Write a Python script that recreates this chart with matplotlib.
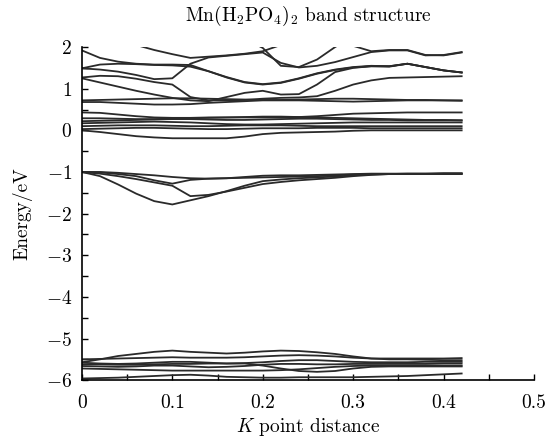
import matplotlib
matplotlib.use("Agg")
import matplotlib.pyplot as plt
from matplotlib.ticker import MultipleLocator

plt.rcParams["font.family"] = "serif"
plt.rcParams["font.serif"] = ["cmr10"]
plt.rcParams["mathtext.fontset"] = "cm"
plt.rcParams["axes.formatter.use_mathtext"] = True

# k-point grid (shared by all bands)
k = [0.00, 0.02, 0.04, 0.06, 0.08, 0.10, 0.12, 0.14, 0.16, 0.18, 0.20,
     0.22, 0.24, 0.26, 0.28, 0.30, 0.32, 0.34, 0.36, 0.38, 0.40, 0.42]

# upper bands (1 .. 2 eV), values above 2 get clipped by the axis
upper_bands = [
    [2.00, 2.15, 2.30, 2.45, 2.60, 2.70, 2.80, 2.90, 3.00, 3.00, 3.00, 3.00, 3.00, 3.00, 3.00, 3.00, 3.00, 3.00, 3.00, 3.00, 3.00, 3.00],
    [2.60, 2.45, 2.30, 2.05, 1.93, 1.83, 1.74, 1.77, 1.80, 1.84, 1.90, 2.05, 2.20, 2.40, 2.60, 2.80, 3.00, 3.00, 3.00, 3.00, 3.00, 3.00],
    [1.92, 1.74, 1.65, 1.60, 1.58, 1.58, 1.57, 1.42, 1.27, 1.15, 1.10, 1.14, 1.24, 1.36, 1.45, 1.51, 1.54, 1.53, 1.60, 1.52, 1.44, 1.39],
    [1.49, 1.46, 1.41, 1.33, 1.23, 1.25, 1.60, 1.75, 1.79, 1.83, 1.87, 1.62, 1.51, 1.55, 1.64, 1.76, 1.88, 1.92, 1.92, 1.80, 1.81, 1.88],
    [1.49, 1.58, 1.60, 1.59, 1.57, 1.56, 1.53, 1.42, 1.28, 1.16, 1.11, 1.15, 1.25, 1.37, 1.46, 1.52, 1.55, 1.54, 1.60, 1.52, 1.44, 1.39],
    [3.00, 3.00, 3.00, 3.00, 3.00, 3.00, 3.00, 2.60, 2.40, 2.20, 1.98, 1.55, 1.52, 1.70, 2.00, 2.25, 2.50, 3.00, 3.00, 3.00, 3.00, 3.00],
    [3.00, 3.00, 3.00, 3.00, 3.00, 3.00, 3.00, 3.00, 3.00, 3.00, 3.00, 3.00, 2.60, 2.45, 2.30, 2.03, 1.90, 1.93, 1.93, 1.81, 1.80, 1.87],
    [1.27, 1.31, 1.30, 1.24, 1.16, 1.10, 0.80, 0.72, 0.72, 0.73, 0.76, 0.78, 0.79, 0.82, 0.95, 1.10, 1.20, 1.26, 1.27, 1.28, 1.29, 1.30],
    [1.25, 1.15, 1.05, 0.95, 0.86, 0.78, 0.72, 0.70, 0.80, 0.90, 0.95, 0.86, 0.87, 1.10, 1.40, 1.50, 1.54, 1.54, 1.60, 1.52, 1.44, 1.39],
]

# bands around 0.7 eV and the Fermi region
mid_bands = [
    [0.68, 0.68, 0.66, 0.64, 0.62, 0.62, 0.63, 0.66, 0.68, 0.70, 0.72, 0.72, 0.72, 0.71, 0.70, 0.69, 0.70, 0.71, 0.72, 0.72, 0.72, 0.72],
    [0.72, 0.73, 0.74, 0.75, 0.76, 0.77, 0.77, 0.76, 0.75, 0.74, 0.73, 0.73, 0.74, 0.75, 0.76, 0.76, 0.75, 0.74, 0.73, 0.73, 0.72, 0.71],
    [0.43, 0.42, 0.38, 0.34, 0.31, 0.30, 0.30, 0.31, 0.31, 0.31, 0.31, 0.31, 0.32, 0.34, 0.37, 0.40, 0.41, 0.42, 0.43, 0.43, 0.43, 0.43],
    [0.29, 0.29, 0.28, 0.27, 0.27, 0.28, 0.29, 0.30, 0.31, 0.32, 0.33, 0.33, 0.32, 0.31, 0.30, 0.29, 0.28, 0.27, 0.26, 0.25, 0.25, 0.24],
    [0.22, 0.23, 0.24, 0.25, 0.26, 0.27, 0.27, 0.26, 0.25, 0.25, 0.26, 0.27, 0.28, 0.28, 0.27, 0.26, 0.25, 0.25, 0.24, 0.24, 0.24, 0.24],
    [0.17, 0.18, 0.19, 0.20, 0.21, 0.20, 0.19, 0.17, 0.15, 0.14, 0.14, 0.15, 0.16, 0.17, 0.18, 0.19, 0.19, 0.19, 0.19, 0.19, 0.19, 0.19],
    [0.10, 0.11, 0.12, 0.12, 0.12, 0.11, 0.10, 0.10, 0.11, 0.12, 0.12, 0.12, 0.11, 0.10, 0.10, 0.10, 0.10, 0.10, 0.10, 0.10, 0.10, 0.10],
    [0.03, 0.04, 0.05, 0.06, 0.06, 0.05, 0.04, 0.03, 0.03, 0.04, 0.05, 0.05, 0.05, 0.06, 0.06, 0.06, 0.05, 0.05, 0.05, 0.05, 0.05, 0.05],
    [0.00, -0.04, -0.09, -0.14, -0.17, -0.19, -0.19, -0.19, -0.19, -0.15, -0.09, -0.06, -0.05, -0.04, -0.03, -0.01, 0.00, 0.00, 0.00, 0.00, 0.00, 0.00],
]

# bands near -1 eV
minus1_bands = [
    [-1.00, -1.00, -1.02, -1.05, -1.08, -1.12, -1.15, -1.16, -1.15, -1.12, -1.09, -1.08, -1.08, -1.07, -1.06, -1.05, -1.04, -1.04, -1.04, -1.04, -1.03, -1.03],
    [-1.00, -1.04, -1.10, -1.17, -1.25, -1.33, -1.58, -1.55, -1.47, -1.38, -1.29, -1.24, -1.20, -1.17, -1.14, -1.10, -1.07, -1.05, -1.05, -1.05, -1.05, -1.05],
    [-1.00, -1.10, -1.30, -1.52, -1.70, -1.78, -1.68, -1.58, -1.46, -1.33, -1.22, -1.18, -1.15, -1.13, -1.11, -1.08, -1.06, -1.05, -1.05, -1.05, -1.04, -1.04],
    [-1.00, -1.01, -1.05, -1.10, -1.20, -1.28, -1.19, -1.16, -1.15, -1.14, -1.13, -1.12, -1.11, -1.10, -1.08, -1.06, -1.05, -1.05, -1.04, -1.04, -1.04, -1.04],
]

# deep valence bands near -5.5 eV
deep_bands = [
    [-5.57, -5.50, -5.42, -5.37, -5.32, -5.29, -5.32, -5.34, -5.36, -5.34, -5.31, -5.29, -5.30, -5.33, -5.37, -5.43, -5.48, -5.48, -5.48, -5.48, -5.48, -5.47],
    [-5.50, -5.49, -5.48, -5.47, -5.46, -5.45, -5.46, -5.46, -5.46, -5.45, -5.43, -5.41, -5.40, -5.41, -5.43, -5.46, -5.48, -5.50, -5.50, -5.51, -5.52, -5.52],
    [-5.58, -5.60, -5.61, -5.60, -5.58, -5.56, -5.56, -5.58, -5.60, -5.59, -5.57, -5.54, -5.52, -5.52, -5.54, -5.56, -5.57, -5.57, -5.57, -5.56, -5.56, -5.56],
    [-5.66, -5.67, -5.68, -5.67, -5.65, -5.65, -5.67, -5.69, -5.68, -5.66, -5.63, -5.61, -5.61, -5.62, -5.62, -5.61, -5.61, -5.61, -5.61, -5.61, -5.60, -5.60],
    [-5.72, -5.73, -5.74, -5.75, -5.76, -5.77, -5.77, -5.77, -5.77, -5.77, -5.77, -5.76, -5.74, -5.71, -5.68, -5.66, -5.65, -5.65, -5.65, -5.65, -5.65, -5.65],
    [-5.62, -5.62, -5.63, -5.63, -5.62, -5.61, -5.61, -5.60, -5.60, -5.60, -5.65, -5.72, -5.78, -5.80, -5.78, -5.72, -5.68, -5.67, -5.67, -5.67, -5.67, -5.67],
    [-5.96, -5.95, -5.94, -5.92, -5.90, -5.88, -5.87, -5.89, -5.92, -5.93, -5.94, -5.94, -5.93, -5.93, -5.93, -5.93, -5.92, -5.91, -5.90, -5.88, -5.86, -5.84],
]

xticks = [0, 0.1, 0.2, 0.3, 0.4, 0.5]
xtick_labels = ["0", "0.1", "0.2", "0.3", "0.4", "0.5"]
yticks = [-6, -5, -4, -3, -2, -1, 0, 1, 2]
ytick_labels = ["$-6$", "$-5$", "$-4$", "$-3$", "$-2$", "$-1$", "$0$", "$1$", "$2$"]

fig = plt.figure(figsize=(5.46, 4.4), dpi=100)
ax = fig.add_axes([0.150, 0.136, 0.828, 0.757])

for band in upper_bands + mid_bands + minus1_bands + deep_bands:
    ax.plot(k, band, color="#2a2a2a", lw=1.3)

ax.set_xlim(0, 0.5)
ax.set_ylim(-6, 2)
ax.set_xticks(xticks)
ax.set_xticklabels(xtick_labels)
ax.set_yticks(yticks)
ax.set_yticklabels(ytick_labels)
ax.xaxis.set_minor_locator(MultipleLocator(0.05))
ax.yaxis.set_minor_locator(MultipleLocator(0.5))
ax.tick_params(which="both", direction="in", labelsize=14, length=4, width=1)
ax.tick_params(axis="x", pad=10)
ax.tick_params(axis="y", pad=7)

for side in ["top", "right"]:
    ax.spines[side].set_visible(False)
for side in ["left", "bottom"]:
    ax.spines[side].set_linewidth(1.2)

ax.set_xlabel("$K$ point distance", fontsize=14, labelpad=3)
ax.set_ylabel("Energy/eV", fontsize=14, labelpad=10)
ax.set_title(r"Mn(H$_2$PO$_4$)$_2$ band structure", fontsize=14, pad=19)

fig.savefig("out.png", dpi=100)
